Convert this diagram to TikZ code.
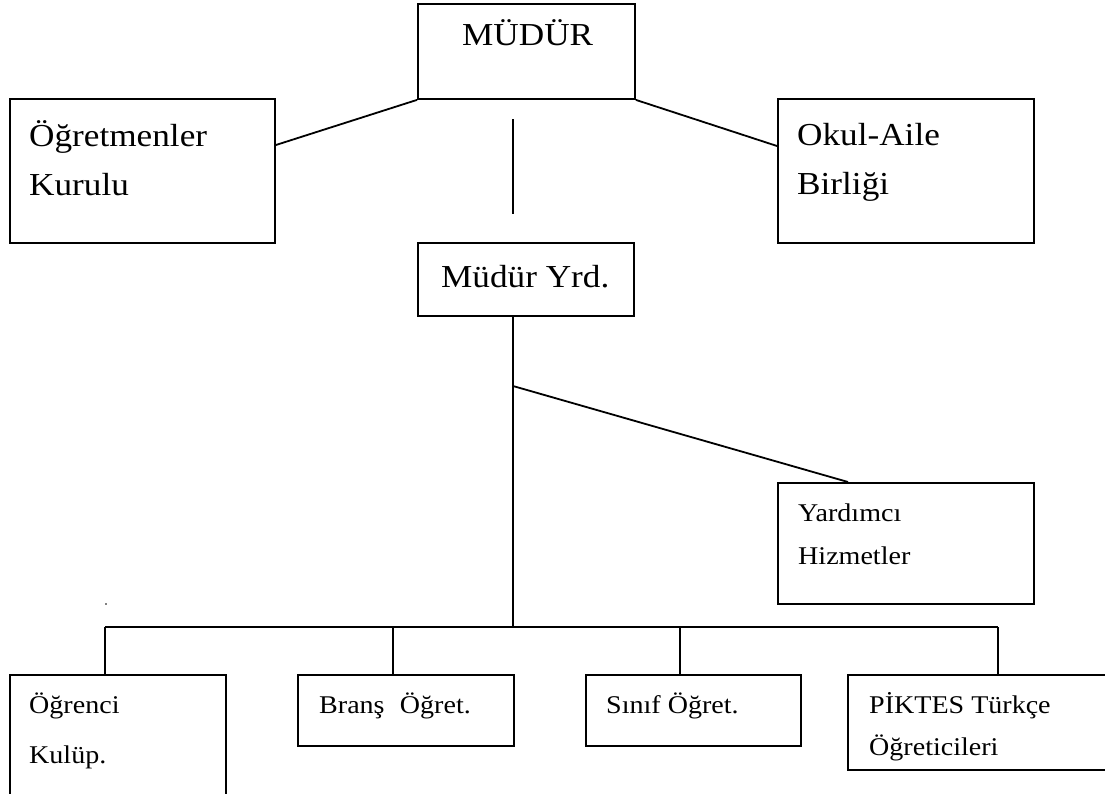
\documentclass[tikz,border=0pt]{standalone}
\usepackage{fontspec}
\setmainfont{Liberation Serif}[FakeStretch=1.1]
\tikzset{
  box/.style={draw, line width=1.9pt, inner sep=0pt, anchor=north west},
  big/.style={font=\fontsize{32}{38}\selectfont, inner sep=0pt, anchor=base west},
  small/.style={font=\fontsize{25.5}{30}\selectfont, inner sep=0pt, anchor=base west},
  link/.style={line width=1.8pt},
}
\begin{document}
\begin{tikzpicture}[x=1pt,y=-1pt]
\useasboundingbox (0,0) rectangle (1105,793);
\fill[white] (0,0) rectangle (1105,793);
% boxes
\node[box, minimum width=217pt, minimum height=95pt]  (mud)     at (417,3)   {};
\node[box, minimum width=265pt, minimum height=144pt] (ogr)     at (9,98)    {};
\node[box, minimum width=256pt, minimum height=144pt] (okul)    at (777,98)  {};
\node[box, minimum width=216pt, minimum height=73pt]  (yrd)     at (417,242) {};
\node[box, minimum width=256pt, minimum height=121pt] (hiz)     at (777,482) {};
\node[box, minimum width=216pt, minimum height=140pt] (ogrenci) at (9,674)   {};
\node[box, minimum width=216pt, minimum height=71pt]  (brans)   at (297,674) {};
\node[box, minimum width=215pt, minimum height=71pt]  (sinif)   at (585,674) {};
\node[box, minimum width=270pt, minimum height=95pt]  (piktes)  at (847,674) {};
% texts
\node[big] (tmud) at (462,45) {MÜDÜR};
\node[big] (togr1) at (29,146) {Öğretmenler};
\node[big] (togr2) at (29,195) {Kurulu};
\node[big] (tokul1) at (797,145) {Okul-Aile};
\node[big] (tokul2) at (797,194) {Birliği};
\node[big] (tyrd) at (441,287) {Müdür Yrd.};
\node[small] (thiz1) at (798,521) {Yardımcı};
\node[small] (thiz2) at (798,564) {Hizmetler};
\node[small] (tog1) at (29,713) {Öğrenci};
\node[small] (tog2) at (29,763) {Kulüp.};
\node[small] (tbr) at (319,713) {Branş\hspace{0.6em}Öğret.};
\node[small] (tsi) at (606,713) {Sınıf Öğret.};
\node[small] (tpi1) at (869,713) {PİKTES Türkçe};
\node[small] (tpi2) at (869,755) {Öğreticileri};
% connectors
\draw[link] ([yshift=-47pt]ogr.north east) -- (mud.south west);
\draw[link] (mud.south east) -- ([yshift=-48pt]okul.north west);
\coordinate (t1) at (513,119);
\coordinate (t2) at (513,214);
\draw[link] (t1) -- (t2);
\coordinate (branch) at (513,386);
\coordinate (bus) at (513,627);
\draw[link] (branch |- yrd.south) -- (bus);
\draw[link] (branch) -- ([xshift=71pt]hiz.north west);
\coordinate (busL) at (105,627);
\coordinate (busR) at (998,627);
\coordinate (d2) at (393,627);
\coordinate (d3) at (680,627);
\draw[link] (busL) -- (busR);
\draw[link] (busL) -- (busL |- ogrenci.north);
\draw[link] (d2) -- (d2 |- brans.north);
\draw[link] (d3) -- (d3 |- sinif.north);
\draw[link] (busR) -- (busR |- piktes.north);
\coordinate (dot) at (106,604);
\fill (dot) circle (0.9pt);
\end{tikzpicture}
\end{document}
